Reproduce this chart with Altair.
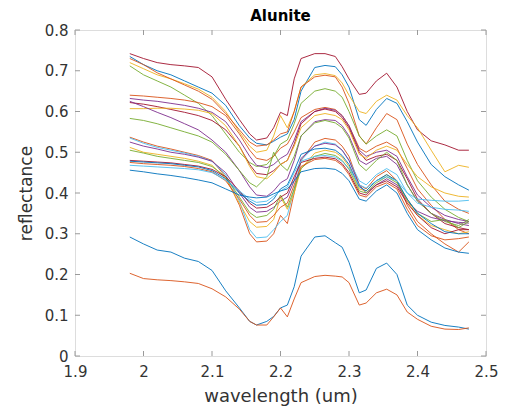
import altair as alt
import pandas as pd

wavelength = [1.98, 2.00, 2.02, 2.04, 2.06, 2.08, 2.10, 2.12, 2.14,
              2.155, 2.165, 2.18, 2.19, 2.20, 2.21, 2.22, 2.23,
              2.25, 2.265, 2.28, 2.29, 2.30, 2.315, 2.325, 2.34,
              2.355, 2.37, 2.385, 2.40, 2.42, 2.44, 2.46, 2.475]

spec01 = [0.292,0.275,0.260,0.255,0.240,0.232,0.210,0.160,0.118,
          0.085,0.076,0.085,0.097,0.118,0.125,0.170,0.245,
          0.292,0.295,0.278,0.267,0.230,0.155,0.162,0.215,
          0.228,0.200,0.125,0.100,0.083,0.075,0.071,0.066]
spec02 = [0.203,0.190,0.187,0.185,0.182,0.178,0.165,0.145,0.115,
          0.085,0.076,0.076,0.096,0.118,0.096,0.140,0.180,
          0.195,0.198,0.196,0.194,0.180,0.125,0.130,0.155,
          0.164,0.150,0.108,0.090,0.073,0.066,0.065,0.069]
spec03 = [0.742,0.730,0.720,0.715,0.712,0.708,0.685,0.630,0.580,
          0.545,0.530,0.535,0.560,0.598,0.590,0.680,0.730,
          0.742,0.742,0.735,0.710,0.680,0.642,0.645,0.675,
          0.694,0.660,0.600,0.555,0.528,0.518,0.505,0.505]
spec04 = [0.735,0.715,0.700,0.690,0.675,0.660,0.645,0.615,0.565,
          0.535,0.522,0.518,0.527,0.537,0.545,0.580,0.650,
          0.708,0.713,0.710,0.690,0.660,0.580,0.566,0.605,
          0.632,0.620,0.575,0.525,0.470,0.440,0.420,0.407]
spec05 = [0.720,0.705,0.690,0.680,0.668,0.655,0.635,0.600,0.550,
          0.515,0.500,0.505,0.540,0.590,0.560,0.600,0.660,
          0.690,0.693,0.688,0.670,0.640,0.600,0.595,0.625,
          0.640,0.628,0.590,0.560,0.505,0.452,0.468,0.463]
spec06 = [0.730,0.715,0.695,0.680,0.665,0.650,0.630,0.595,0.555,
          0.525,0.515,0.518,0.530,0.545,0.550,0.600,0.660,
          0.685,0.689,0.685,0.660,0.620,0.540,0.520,0.560,
          0.595,0.580,0.520,0.470,0.420,0.380,0.360,0.350]
spec07 = [0.712,0.690,0.675,0.660,0.640,0.620,0.590,0.545,0.500,
          0.475,0.465,0.470,0.490,0.520,0.530,0.570,0.620,
          0.650,0.656,0.650,0.635,0.600,0.540,0.520,0.540,
          0.555,0.540,0.480,0.430,0.390,0.360,0.340,0.330]
spec08 = [0.640,0.638,0.635,0.632,0.628,0.622,0.612,0.590,0.545,
          0.505,0.485,0.480,0.490,0.510,0.520,0.550,0.585,
          0.605,0.610,0.605,0.590,0.565,0.510,0.500,0.515,
          0.525,0.510,0.460,0.410,0.370,0.335,0.310,0.300]
spec09 = [0.632,0.628,0.625,0.620,0.615,0.608,0.598,0.575,0.530,
          0.490,0.468,0.462,0.470,0.485,0.495,0.530,0.575,
          0.600,0.608,0.603,0.590,0.565,0.505,0.490,0.500,
          0.505,0.490,0.440,0.395,0.365,0.345,0.335,0.330]
spec10 = [0.622,0.618,0.612,0.605,0.598,0.590,0.578,0.555,0.515,
          0.470,0.448,0.445,0.455,0.470,0.480,0.520,0.570,
          0.600,0.606,0.600,0.585,0.560,0.500,0.480,0.490,
          0.495,0.480,0.435,0.385,0.350,0.325,0.315,0.310]
spec11 = [0.607,0.607,0.608,0.608,0.606,0.603,0.595,0.565,0.515,
          0.465,0.440,0.435,0.450,0.470,0.480,0.515,0.560,
          0.590,0.595,0.590,0.580,0.555,0.495,0.485,0.505,
          0.515,0.505,0.470,0.440,0.415,0.400,0.392,0.390]
spec12 = [0.625,0.612,0.598,0.585,0.570,0.555,0.530,0.500,0.455,
          0.415,0.395,0.392,0.405,0.425,0.435,0.480,0.540,
          0.575,0.580,0.578,0.565,0.540,0.480,0.470,0.485,
          0.490,0.470,0.420,0.380,0.350,0.335,0.325,0.320]
spec13 = [0.583,0.578,0.570,0.560,0.550,0.540,0.525,0.495,0.455,
          0.425,0.415,0.440,0.500,0.470,0.455,0.490,0.540,
          0.572,0.578,0.572,0.560,0.535,0.470,0.455,0.480,
          0.500,0.480,0.420,0.380,0.350,0.330,0.320,0.335]
spec14 = [0.537,0.525,0.515,0.508,0.500,0.492,0.480,0.440,0.370,
          0.300,0.280,0.282,0.300,0.345,0.325,0.400,0.480,
          0.525,0.534,0.530,0.515,0.490,0.420,0.410,0.440,
          0.455,0.430,0.370,0.330,0.300,0.275,0.255,0.280]
spec15 = [0.535,0.522,0.512,0.505,0.498,0.490,0.478,0.445,0.380,
          0.310,0.290,0.292,0.310,0.330,0.345,0.410,0.480,
          0.515,0.525,0.520,0.505,0.480,0.430,0.420,0.445,
          0.460,0.445,0.400,0.375,0.365,0.360,0.358,0.355]
spec16 = [0.525,0.515,0.508,0.500,0.495,0.488,0.478,0.450,0.400,
          0.365,0.353,0.355,0.365,0.380,0.390,0.430,0.485,
          0.515,0.522,0.518,0.505,0.480,0.420,0.400,0.420,
          0.435,0.420,0.380,0.355,0.340,0.332,0.328,0.326]
spec17 = [0.512,0.500,0.495,0.490,0.485,0.478,0.468,0.435,0.375,
          0.330,0.316,0.318,0.335,0.390,0.360,0.400,0.460,
          0.498,0.505,0.500,0.488,0.465,0.410,0.405,0.430,
          0.445,0.430,0.380,0.345,0.320,0.310,0.300,0.305]
spec18 = [0.505,0.498,0.490,0.485,0.480,0.475,0.465,0.440,0.390,
          0.352,0.340,0.345,0.360,0.395,0.365,0.410,0.460,
          0.490,0.497,0.492,0.480,0.458,0.405,0.400,0.425,
          0.440,0.425,0.385,0.350,0.330,0.335,0.315,0.330]
spec19 = [0.480,0.478,0.476,0.474,0.470,0.466,0.458,0.440,0.405,
          0.375,0.363,0.365,0.375,0.390,0.400,0.440,0.475,
          0.485,0.488,0.484,0.472,0.450,0.400,0.395,0.420,
          0.430,0.415,0.375,0.345,0.315,0.300,0.310,0.310]
spec20 = [0.478,0.476,0.474,0.472,0.468,0.464,0.455,0.435,0.400,
          0.380,0.370,0.372,0.385,0.410,0.420,0.455,0.495,
          0.508,0.510,0.505,0.492,0.470,0.415,0.405,0.430,
          0.445,0.430,0.385,0.350,0.325,0.305,0.300,0.300]
spec21 = [0.475,0.472,0.470,0.468,0.465,0.460,0.452,0.430,0.385,
          0.345,0.328,0.330,0.345,0.365,0.375,0.420,0.465,
          0.482,0.485,0.480,0.468,0.445,0.395,0.390,0.415,
          0.425,0.410,0.360,0.320,0.295,0.285,0.288,0.292]
spec22 = [0.468,0.466,0.464,0.462,0.460,0.457,0.450,0.432,0.405,
          0.385,0.377,0.380,0.392,0.405,0.415,0.450,0.478,
          0.490,0.492,0.488,0.478,0.460,0.420,0.412,0.430,
          0.440,0.430,0.400,0.385,0.382,0.380,0.380,0.382]
spec23 = [0.456,0.452,0.447,0.443,0.438,0.432,0.425,0.410,0.395,
          0.390,0.388,0.390,0.398,0.405,0.410,0.430,0.452,
          0.460,0.461,0.458,0.448,0.430,0.385,0.380,0.405,
          0.420,0.400,0.350,0.310,0.285,0.265,0.255,0.252]

BLUE, ORANGE, YELLOW, PURPLE = "#0072BD", "#D95319", "#EDB120", "#7E2F8E"
GREEN, LIGHTBLUE, MAROON = "#77AC30", "#4DBEEE", "#A2142F"

spectra = [spec01, spec02, spec03, spec04, spec05, spec06, spec07, spec08,
           spec09, spec10, spec11, spec12, spec13, spec14, spec15, spec16,
           spec17, spec18, spec19, spec20, spec21, spec22, spec23]
line_colors = [BLUE, ORANGE, MAROON, BLUE, YELLOW, ORANGE, GREEN, ORANGE,
               PURPLE, MAROON, YELLOW, PURPLE, GREEN, ORANGE, LIGHTBLUE,
               PURPLE, YELLOW, GREEN, MAROON, BLUE, ORANGE, LIGHTBLUE, BLUE]

x_ticks = [1.9, 2.0, 2.1, 2.2, 2.3, 2.4, 2.5]
y_ticks = [0, 0.1, 0.2, 0.3, 0.4, 0.5, 0.6, 0.7, 0.8]
title_text = ["Alunite"]

names = [f"s{i+1:02d}" for i in range(len(spectra))]
rows = []
for name, vals in zip(names, spectra):
    for w, v in zip(wavelength, vals):
        rows.append({"w": w, "v": v, "s": name})
df = pd.DataFrame(rows)
xt = pd.DataFrame({"w": x_ticks})
yt = pd.DataFrame({"v": y_ticks})
tt = pd.DataFrame({"label": title_text})

W, H = 411, 326
AX = "#9a9a9a"
TXT = "#333333"
FONT = "DejaVu Sans"

xs = alt.Scale(domain=[1.9, 2.5], nice=False, zero=False)
ys = alt.Scale(domain=[0, 0.8], nice=False, zero=False)

x_axis = alt.Axis(
    values=x_ticks, format="~g", title="wavelength (um)", ticks=False,
    domain=False, grid=False, labelPadding=8, titlePadding=8,
    labelFlush=False, labelOverlap=False,
    labelFontSize=15, titleFontSize=18, labelColor=TXT, titleColor=TXT,
    titleFontWeight="normal", labelFont=FONT, titleFont=FONT)
y_axis = alt.Axis(
    values=y_ticks, format="~g", title="reflectance", ticks=False,
    domain=False, grid=False, labelPadding=7, titlePadding=9,
    labelFlush=False, labelOverlap=False,
    labelFontSize=15, titleFontSize=17, labelColor=TXT, titleColor=TXT,
    titleFontWeight="normal", labelFont=FONT, titleFont=FONT)

lines = alt.Chart(df).mark_line(strokeWidth=1, opacity=0.9).encode(
    x=alt.X("w:Q", scale=xs, axis=x_axis),
    y=alt.Y("v:Q", scale=ys, axis=y_axis),
    color=alt.Color("s:N", scale=alt.Scale(domain=names, range=line_colors), legend=None),
    detail="s:N",
)

tick_len = 5
bottom_ticks = alt.Chart(xt).mark_rule(color=AX, strokeWidth=1).encode(
    x=alt.X("w:Q", scale=xs, axis=x_axis), y=alt.value(H), y2=alt.value(H - tick_len))
top_ticks = alt.Chart(xt).mark_rule(color=AX, strokeWidth=1).encode(
    x=alt.X("w:Q", scale=xs, axis=x_axis), y=alt.value(0), y2=alt.value(tick_len))
left_ticks = alt.Chart(yt).mark_rule(color=AX, strokeWidth=1).encode(
    y=alt.Y("v:Q", scale=ys, axis=y_axis), x=alt.value(0), x2=alt.value(tick_len))
right_ticks = alt.Chart(yt).mark_rule(color=AX, strokeWidth=1).encode(
    y=alt.Y("v:Q", scale=ys, axis=y_axis), x=alt.value(W), x2=alt.value(W - tick_len))

title_mark = alt.Chart(tt).mark_text(
    font=FONT, fontSize=15, fontWeight="bold", color="#000000",
    align="center", baseline="bottom"
).encode(text="label:N", x=alt.value(W / 2), y=alt.value(-6))

chart = alt.layer(lines, bottom_ticks, top_ticks, left_ticks, right_ticks, title_mark).properties(
    width=W, height=H,
    autosize=alt.AutoSizeParams(type="none"),
    padding={"left": 67, "top": 22, "right": 19, "bottom": 52},
).configure_view(
    stroke=AX, strokeWidth=1
).configure(background="white")

chart.save("out.html", embed_options={"renderer": "svg", "actions": False})
